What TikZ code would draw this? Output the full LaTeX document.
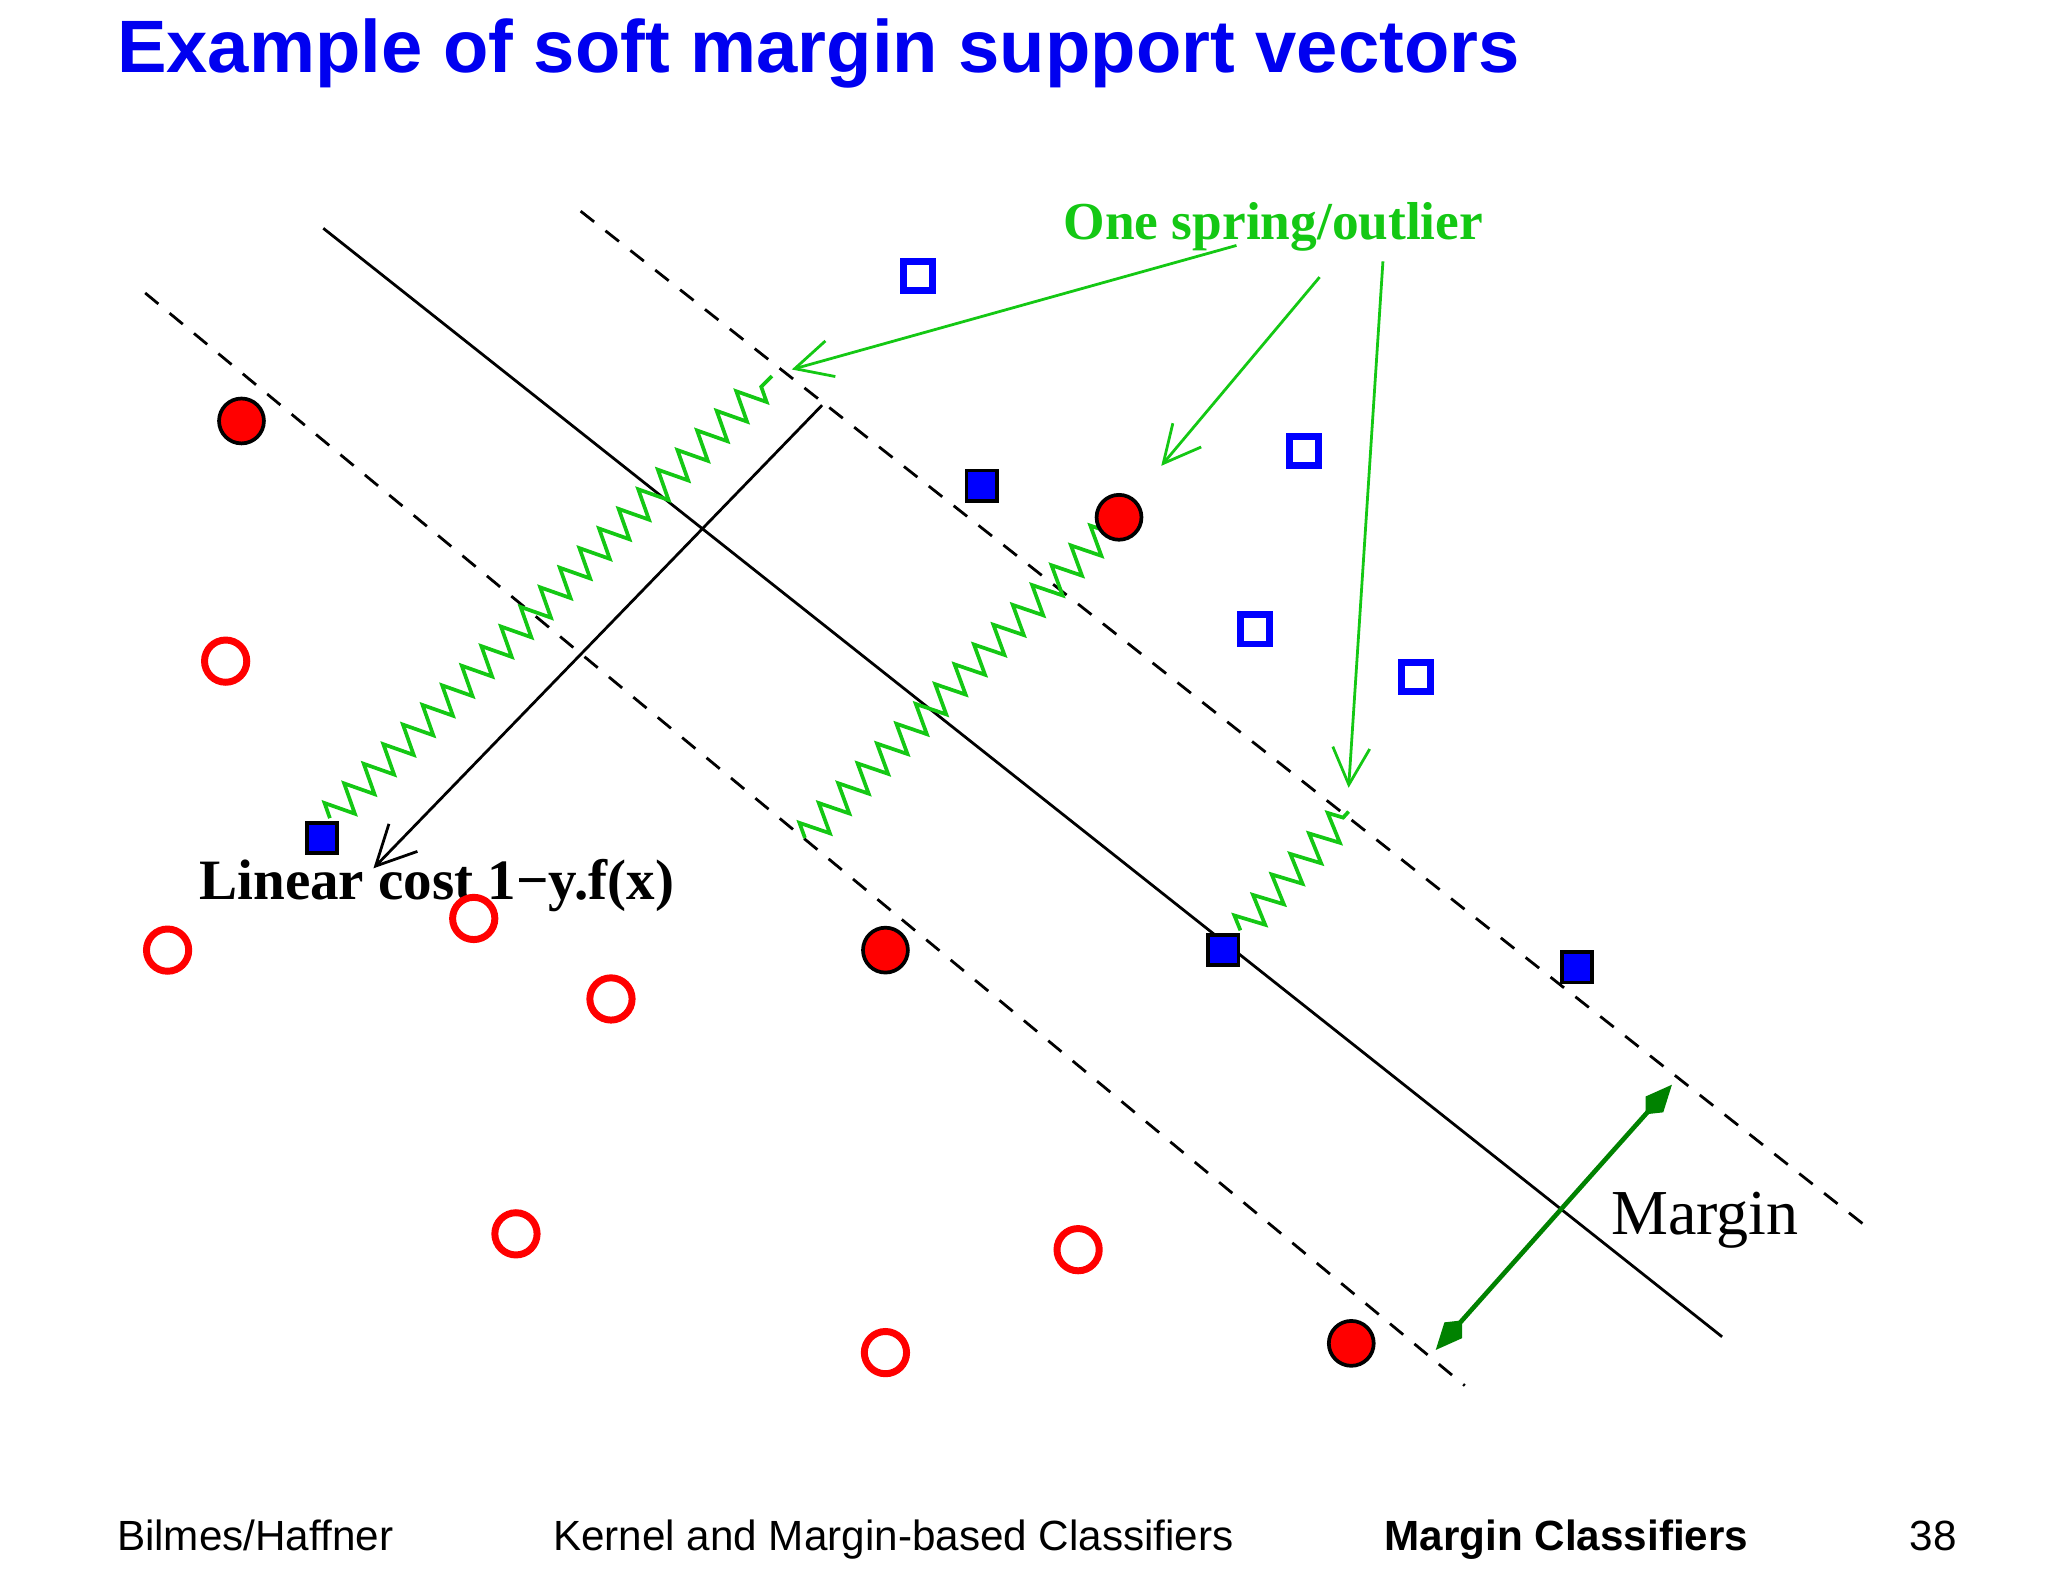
\documentclass[tikz,border=0pt]{standalone}
\usepackage{fontspec}
\setmainfont{Liberation Serif}
\newfontfamily\sans{Liberation Sans}
\usetikzlibrary{decorations.pathmorphing,arrows.meta}
\definecolor{sgreen}{RGB}{20,200,20}
\definecolor{dgreen}{RGB}{0,130,0}
\definecolor{tblue}{RGB}{0,0,240}
\begin{document}
\begin{tikzpicture}[x=0.01cm,y=-0.01cm,
 fr/.style={circle,draw=black,fill=red,minimum size=0.34cm,inner sep=0,line width=0.8pt},
 orr/.style={circle,draw=red,minimum size=0.32cm,inner sep=0,line width=1.5pt},
 fb/.style={rectangle,draw=black,fill=blue,minimum size=0.23cm,inner sep=0,line width=0.8pt},
 ob/.style={rectangle,draw=blue,minimum size=0.22cm,inner sep=0,line width=1.5pt},
 spring/.style={draw=sgreen,line width=0.8pt,decorate,decoration={zigzag,segment length=0.21cm,amplitude=0.11cm}},
 garrow/.style={draw=sgreen,line width=0.6pt,-{Straight Barb[length=0.28cm,width=0.28cm]}},
 dline/.style={dash pattern=on 0.13cm off 0.11cm,line width=0.6pt}]
\useasboundingbox (0,0) rectangle (1552,1199);
\node[anchor=base west,text=tblue,font=\sans\bfseries\fontsize{16pt}{18pt}\selectfont,inner sep=0] (title) at (88,55) {Example of soft margin support vectors};
% lines
\coordinate (s1) at (245,173); \coordinate (s2) at (1305,1013);
\coordinate (u1) at (440,160); \coordinate (u2) at (1415,930);
\coordinate (l1) at (110,222); \coordinate (l2) at (1110,1050);
\draw[line width=0.6pt] (s1) -- (s2);
\draw[dline] (u1) -- (u2);
\draw[dline] (l1) -- (l2);
% springs
\coordinate (a1) at (250,620); \coordinate (a2) at (585,285);
\coordinate (b1) at (610,635); \coordinate (b2) at (840,400);
\coordinate (c1) at (940,705); \coordinate (c2) at (1022,615);
\draw[spring] (a1) -- (a2);
\draw[spring] (b1) -- (b2);
\draw[spring] (c1) -- (c2);
% labels
\node[text=sgreen,font=\bfseries\fontsize{11.5pt}{13pt}\selectfont] (spr) at (965,172) {One spring/outlier};
\node[font=\bfseries\fontsize{12.3pt}{14pt}\selectfont] (lin) at (331,671) {Linear cost 1\textminus y.f(x)};
\node[font=\fontsize{13.8pt}{16pt}\selectfont] (mar) at (1292,925) {Margin};
\coordinate (g1) at (937,186); \coordinate (g1e) at (600,280);
\coordinate (g2) at (1000,210); \coordinate (g2e) at (880,353);
\coordinate (g3) at (1048,198); \coordinate (g3e) at (1022,597);
\draw[garrow] (g1) -- (g1e);
\draw[garrow] (g2) -- (g2e);
\draw[garrow] (g3) -- (g3e);
\coordinate (k1) at (623,307); \coordinate (k2) at (283,658);
\draw[line width=0.6pt,-{Straight Barb[length=0.3cm,width=0.3cm]}] (k1) -- (k2);
\coordinate (m1) at (1088,1023); \coordinate (m2) at (1267,822);
\draw[dgreen,line width=1pt,{Kite[length=0.3cm,width=0.18cm,inset=0.1cm]}-{Kite[length=0.3cm,width=0.18cm,inset=0.1cm]}] (m1) -- (m2);
% points
\node[fr] (r1) at (183,319) {}; \node[fr] (r2) at (848,392) {};
\node[fr] (r3) at (671,720) {}; \node[fr] (r4) at (1024,1018) {};
\node[orr] (o1) at (171,501) {}; \node[orr] (o2) at (127,720) {};
\node[orr] (o3) at (359,696) {}; \node[orr] (o4) at (463,757) {};
\node[orr] (o5) at (391,935) {}; \node[orr] (o6) at (817,947) {};
\node[orr] (o7) at (671,1025) {};
\node[fb] (q1) at (244,635) {}; \node[fb] (q2) at (744,368) {};
\node[fb] (q3) at (927,720) {}; \node[fb] (q4) at (1195,733) {};
\node[ob] (p1) at (696,209) {}; \node[ob] (p2) at (988,342) {};
\node[ob] (p3) at (951,477) {}; \node[ob] (p4) at (1073,513) {};
% footer
\begin{scope}[font=\sans\fontsize{9.1pt}{10pt}\selectfont]
\node[anchor=base west,inner sep=0] (f1) at (88,1175) {Bilmes/Haffner};
\node[anchor=base,inner sep=0] (f2) at (677,1175) {Kernel and Margin-based Classifiers};
\node[anchor=base,inner sep=0,font=\sans\bfseries\fontsize{9.1pt}{10pt}\selectfont] (f3) at (1187,1175) {Margin Classifiers};
\node[anchor=base,inner sep=0] (f4) at (1465,1175) {38};
\end{scope}
\end{tikzpicture}
\end{document}
